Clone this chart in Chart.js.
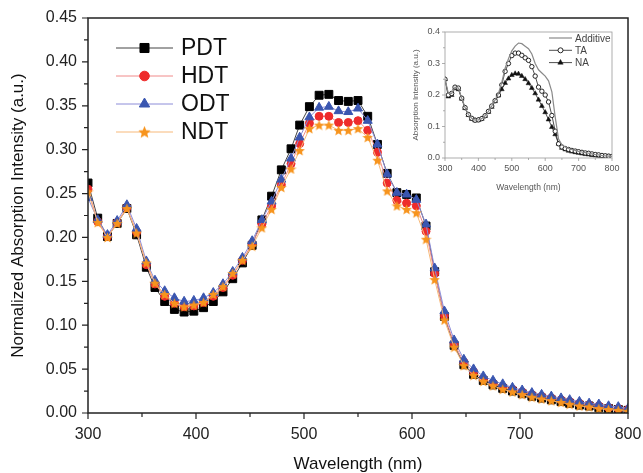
<!DOCTYPE html>
<html>
<head>
<meta charset="utf-8">
<script src="https://cdn.jsdelivr.net/npm/chart.js@4.4.1/dist/chart.umd.min.js"></script>
<style>
  html, body { margin: 0; padding: 0; background: #fff; }
  #wrap { position: relative; width: 643px; height: 473px; }
  #mainChart { position: absolute; left: 0; top: 0; }
  #insetChart { position: absolute; left: 405px; top: 22px; }
</style>
</head>
<body>
<div id="wrap">
  <canvas id="mainChart" width="643" height="473"></canvas>
  <canvas id="insetChart" width="220" height="175"></canvas>
</div>
<script>
// main spectrum, wavelengths (nm)
const wavelengths = [300, 309, 318, 327, 336, 345, 354, 362, 371, 380, 389, 398, 407, 416, 425, 434, 443, 452, 461, 470,
  479, 488, 496, 505, 514, 523, 532, 541, 550, 559, 568, 577, 586, 595, 604, 613, 621, 630, 639, 648,
  657, 666, 675, 684, 693, 702, 711, 720, 729, 738, 746, 755, 764, 773, 782, 791, 800];

const pdt = [0.262, 0.222, 0.201, 0.216, 0.233, 0.203, 0.166, 0.143, 0.127, 0.118, 0.115, 0.116, 0.120, 0.127, 0.138, 0.153, 0.171, 0.191, 0.220, 0.247,
  0.277, 0.301, 0.328, 0.349, 0.362, 0.363, 0.356, 0.355, 0.356, 0.338, 0.306, 0.273, 0.251, 0.249, 0.245, 0.213, 0.161, 0.110, 0.077, 0.055,
  0.044, 0.037, 0.032, 0.028, 0.025, 0.022, 0.019, 0.017, 0.015, 0.013, 0.011, 0.009, 0.008, 0.006, 0.005, 0.004, 0.003];
const hdt = [0.255, 0.218, 0.201, 0.217, 0.234, 0.206, 0.169, 0.147, 0.133, 0.125, 0.121, 0.122, 0.126, 0.133, 0.143, 0.157, 0.174, 0.193, 0.215, 0.236,
  0.260, 0.284, 0.307, 0.330, 0.338, 0.338, 0.331, 0.331, 0.333, 0.322, 0.297, 0.262, 0.242, 0.239, 0.236, 0.207, 0.159, 0.111, 0.079, 0.058,
  0.047, 0.039, 0.034, 0.030, 0.027, 0.024, 0.021, 0.019, 0.017, 0.015, 0.013, 0.011, 0.009, 0.008, 0.006, 0.005, 0.004];
const odt = [0.245, 0.220, 0.203, 0.219, 0.237, 0.210, 0.173, 0.151, 0.139, 0.131, 0.127, 0.128, 0.131, 0.137, 0.147, 0.161, 0.177, 0.196, 0.220, 0.241,
  0.266, 0.290, 0.314, 0.337, 0.348, 0.349, 0.344, 0.343, 0.347, 0.333, 0.306, 0.272, 0.251, 0.249, 0.243, 0.215, 0.165, 0.116, 0.083, 0.061,
  0.050, 0.042, 0.037, 0.033, 0.029, 0.026, 0.023, 0.021, 0.019, 0.017, 0.015, 0.013, 0.011, 0.010, 0.008, 0.007, 0.005];
const ndt = [0.252, 0.217, 0.200, 0.216, 0.233, 0.205, 0.171, 0.148, 0.135, 0.125, 0.121, 0.123, 0.126, 0.135, 0.144, 0.159, 0.174, 0.190, 0.211, 0.232,
  0.257, 0.278, 0.299, 0.324, 0.328, 0.328, 0.322, 0.322, 0.324, 0.314, 0.288, 0.253, 0.236, 0.232, 0.228, 0.198, 0.152, 0.106, 0.075, 0.054,
  0.043, 0.036, 0.031, 0.027, 0.024, 0.021, 0.018, 0.016, 0.014, 0.012, 0.010, 0.008, 0.007, 0.005, 0.004, 0.003, 0.002];

const xTicks = [300, 400, 500, 600, 700, 800];
const xMinor = [350, 450, 550, 650, 750];
const yTicks = [0, 0.05, 0.10, 0.15, 0.20, 0.25, 0.30, 0.35, 0.40, 0.45];
const yMinor = [0.025, 0.075, 0.125, 0.175, 0.225, 0.275, 0.325, 0.375, 0.425];

// inset
const insetWavelengths = [300, 310, 320, 330, 340, 350, 360, 370, 380, 390, 400, 410, 420, 430, 440, 450, 460, 470, 480, 490,
  500, 510, 520, 530, 540, 550, 560, 570, 580, 590, 600, 610, 620, 630, 640, 650, 660, 670, 680, 690,
  700, 710, 720, 730, 740, 750, 760, 770, 780, 790, 800];
const additive = [0.250, 0.205, 0.205, 0.225, 0.222, 0.190, 0.160, 0.138, 0.126, 0.120, 0.121, 0.125, 0.134, 0.148, 0.165, 0.184, 0.205, 0.240, 0.285, 0.315,
  0.340, 0.355, 0.365, 0.363, 0.355, 0.347, 0.330, 0.300, 0.280, 0.270, 0.260, 0.245, 0.210, 0.130, 0.060, 0.042, 0.035, 0.030, 0.027, 0.024,
  0.021, 0.019, 0.017, 0.015, 0.013, 0.011, 0.010, 0.008, 0.007, 0.006, 0.005];
const ta = [0.250, 0.200, 0.205, 0.225, 0.222, 0.190, 0.160, 0.138, 0.126, 0.120, 0.121, 0.125, 0.134, 0.148, 0.165, 0.182, 0.200, 0.232, 0.275, 0.300,
  0.325, 0.333, 0.333, 0.326, 0.318, 0.310, 0.290, 0.260, 0.225, 0.212, 0.200, 0.178, 0.135, 0.085, 0.045, 0.035, 0.030, 0.027, 0.024, 0.022,
  0.020, 0.018, 0.016, 0.015, 0.013, 0.011, 0.010, 0.008, 0.007, 0.006, 0.005];
const na = [0.250, 0.195, 0.200, 0.222, 0.218, 0.188, 0.158, 0.136, 0.124, 0.119, 0.120, 0.124, 0.133, 0.146, 0.162, 0.180, 0.198, 0.218, 0.238, 0.252,
  0.263, 0.268, 0.267, 0.260, 0.250, 0.237, 0.222, 0.205, 0.185, 0.165, 0.145, 0.122, 0.098, 0.075, 0.045, 0.032, 0.027, 0.023, 0.020, 0.018,
  0.016, 0.014, 0.012, 0.011, 0.009, 0.008, 0.007, 0.006, 0.005, 0.004, 0.003];
const insetXTicks = [300, 400, 500, 600, 700, 800];
const insetYTicks = [0, 0.1, 0.2, 0.3, 0.4];

const FONT = '"Liberation Sans", Arial, sans-serif';

// filled five point star as a point style
function makeStar(size, color) {
  const c = document.createElement('canvas');
  c.width = size; c.height = size;
  const g = c.getContext('2d');
  const cx = size / 2, cy = size / 2 + 0.5, R = size / 2, r = R * 0.45;
  g.beginPath();
  for (let i = 0; i < 10; i++) {
    const rad = (i % 2 === 0) ? R : r;
    const a = -Math.PI / 2 + i * Math.PI / 5;
    g.lineTo(cx + rad * Math.cos(a), cy + rad * Math.sin(a));
  }
  g.closePath();
  g.fillStyle = color;
  g.fill();
  return c;
}
const starImg = makeStar(11, '#f7941d');
const starLegend = makeStar(13, '#f7941d');

function pairs(xs, ys) {
  return ys.map((v, i) => ({ x: xs[i], y: v }));
}

// frame + outward ticks
const framePlugin = {
  id: 'frame',
  afterDatasetsDraw(chart, args, o) {
    const { ctx, chartArea: a, scales: { x, y } } = chart;
    ctx.save();
    ctx.strokeStyle = o.color;
    ctx.lineWidth = o.lineWidth;
    ctx.strokeRect(a.left, a.top, a.right - a.left, a.bottom - a.top);
    ctx.lineWidth = o.tickWidth;
    ctx.beginPath();
    o.xMajor.forEach(v => { const px = x.getPixelForValue(v); ctx.moveTo(px, a.bottom); ctx.lineTo(px, a.bottom + o.major); });
    o.xMinor.forEach(v => { const px = x.getPixelForValue(v); ctx.moveTo(px, a.bottom); ctx.lineTo(px, a.bottom + o.minor); });
    o.yMajor.forEach(v => { const py = y.getPixelForValue(v); ctx.moveTo(a.left, py); ctx.lineTo(a.left - o.major, py); });
    o.yMinor.forEach(v => { const py = y.getPixelForValue(v); ctx.moveTo(a.left, py); ctx.lineTo(a.left - o.minor, py); });
    ctx.stroke();
    ctx.restore();
  }
};

// legend: line with marker in the middle, then label
const lineLegendPlugin = {
  id: 'lineLegend',
  afterDraw(chart, args, o) {
    const ctx = chart.ctx;
    ctx.save();
    ctx.font = o.font;
    ctx.textBaseline = 'middle';
    o.items.forEach((it, i) => {
      const ds = chart.data.datasets[it.index];
      const yy = o.y + i * o.rowGap;
      ctx.strokeStyle = ds.borderColor;
      ctx.lineWidth = ds.borderWidth;
      ctx.beginPath();
      ctx.moveTo(o.x, yy);
      ctx.lineTo(o.x + o.lineLen, yy);
      ctx.stroke();
      if (ds.pointRadius > 0) {
        ctx.fillStyle = ds.pointBackgroundColor;
        ctx.strokeStyle = ds.pointBorderColor;
        ctx.lineWidth = ds.pointBorderWidth;
        const style = it.style || ds.pointStyle;
        Chart.helpers.drawPoint(ctx, { pointStyle: style, radius: ds.pointRadius + (o.grow || 0), rotation: 0, borderWidth: ds.pointBorderWidth }, o.x + o.lineLen / 2, yy);
      }
      ctx.fillStyle = o.textColor;
      ctx.fillText(ds.label, o.x + o.lineLen + o.textGap, yy + 1);
    });
    ctx.restore();
  }
};

function series(label, data, line, marker, style, radius, order) {
  return {
    label: label,
    data: data,
    borderColor: line,
    borderWidth: 1,
    pointStyle: style,
    pointRadius: radius,
    pointBackgroundColor: marker,
    pointBorderColor: marker,
    pointBorderWidth: 1,
    tension: 0,
    order: order
  };
}

new Chart(document.getElementById('mainChart'), {
  type: 'line',
  data: {
    datasets: [
      series('PDT', pairs(wavelengths, pdt), '#444444', '#000000', 'rect', 5.6, 4),
      series('HDT', pairs(wavelengths, hdt), '#f08a8a', '#ee2b2b', 'circle', 4, 3),
      series('ODT', pairs(wavelengths, odt), '#8c8cd8', '#3a56b0', 'triangle', 5.2, 2),
      series('NDT', pairs(wavelengths, ndt), '#f7b97a', '#f7941d', starImg, 5.5, 1)
    ]
  },
  options: {
    responsive: false,
    animation: false,
    layout: { padding: { left: 0, right: 15, top: 18, bottom: 0 } },
    scales: {
      x: {
        type: 'linear',
        min: 300, max: 800,
        afterBuildTicks: s => { s.ticks = xTicks.map(v => ({ value: v })); },
        afterFit: s => { s.height = 60; s.paddingLeft = 0; s.paddingRight = 0; },
        grid: { display: false, drawTicks: false },
        border: { display: false },
        ticks: { padding: 12, color: '#222', font: { family: FONT, size: 16 } },
        title: { display: true, text: 'Wavelength (nm)', color: '#111', font: { family: FONT, size: 17 }, padding: { top: 0, bottom: -2 } }
      },
      y: {
        min: 0, max: 0.45,
        afterBuildTicks: s => { s.ticks = yTicks.map(v => ({ value: v })); },
        afterFit: s => { s.width = 88; s.paddingTop = 0; s.paddingBottom = 0; },
        grid: { display: false, drawTicks: false },
        border: { display: false },
        ticks: { padding: 11, color: '#222', font: { family: FONT, size: 16 }, callback: v => v.toFixed(2) },
        title: { display: true, text: 'Normalized Absorption Intensity (a.u.)', color: '#111', font: { family: FONT, size: 17 }, padding: { top: 8, bottom: 0 } }
      }
    },
    plugins: {
      legend: { display: false },
      tooltip: { enabled: false },
      frame: { color: '#222', lineWidth: 1.5, tickWidth: 1.2, major: 6, minor: 4, xMajor: xTicks, xMinor: xMinor, yMajor: yTicks, yMinor: yMinor },
      lineLegend: {
        items: [{ index: 0 }, { index: 1 }, { index: 2 }, { index: 3, style: starLegend }],
        x: 116, y: 48, rowGap: 28, lineLen: 57, textGap: 8,
        font: '23px ' + FONT, textColor: '#111', grow: 0.8
      }
    }
  },
  plugins: [framePlugin, lineLegendPlugin]
});

const gray = '#555555';
new Chart(document.getElementById('insetChart'), {
  type: 'line',
  data: {
    datasets: [
      { label: 'Additive', data: pairs(insetWavelengths, additive), borderColor: '#8a8a8a', borderWidth: 1.2, pointRadius: 0, tension: 0 },
      { label: 'TA', data: pairs(insetWavelengths, ta), borderColor: '#222', borderWidth: 0.8, pointStyle: 'circle', pointRadius: 2.2,
        pointBackgroundColor: '#ffffff', pointBorderColor: '#111', pointBorderWidth: 0.9, tension: 0 },
      { label: 'NA', data: pairs(insetWavelengths, na), borderColor: '#222', borderWidth: 0.8, pointStyle: 'triangle', pointRadius: 2.8,
        pointBackgroundColor: '#111', pointBorderColor: '#111', pointBorderWidth: 0.5, tension: 0 }
    ]
  },
  options: {
    responsive: false,
    animation: false,
    layout: { padding: { left: 0, right: 13, top: 10, bottom: 0 } },
    scales: {
      x: {
        type: 'linear',
        min: 300, max: 800,
        afterBuildTicks: s => { s.ticks = insetXTicks.map(v => ({ value: v })); },
        afterFit: s => { s.height = 39; s.paddingLeft = 0; s.paddingRight = 0; },
        grid: { display: false, drawTicks: false },
        border: { display: false },
        ticks: { padding: 5, color: gray, font: { family: FONT, size: 9 } },
        title: { display: true, text: 'Wavelength (nm)', color: gray, font: { family: FONT, size: 8.5 }, padding: { top: 0, bottom: 4 } }
      },
      y: {
        min: 0, max: 0.4,
        afterBuildTicks: s => { s.ticks = insetYTicks.map(v => ({ value: v })); },
        afterFit: s => { s.width = 40; s.paddingTop = 0; s.paddingBottom = 0; },
        grid: { display: false, drawTicks: false },
        border: { display: false },
        ticks: { padding: 5, color: gray, font: { family: FONT, size: 9 }, callback: v => v.toFixed(1) },
        title: { display: true, text: 'Absorption Intensity (a.u.)', color: gray, font: { family: FONT, size: 8 }, padding: { top: 6, bottom: 0 } }
      }
    },
    plugins: {
      legend: { display: false },
      tooltip: { enabled: false },
      frame: { color: '#999', lineWidth: 0.8, tickWidth: 0.8, major: 3, minor: 2, xMajor: insetXTicks, xMinor: [350, 450, 550, 650, 750],
        yMajor: insetYTicks, yMinor: [0.05, 0.15, 0.25, 0.35] },
      lineLegend: {
        items: [{ index: 0 }, { index: 1 }, { index: 2 }],
        x: 144, y: 16, rowGap: 12.3, lineLen: 23, textGap: 3,
        font: '10px ' + FONT, textColor: '#444', grow: 0.3
      }
    }
  },
  plugins: [framePlugin, lineLegendPlugin]
});
</script>
</body>
</html>
